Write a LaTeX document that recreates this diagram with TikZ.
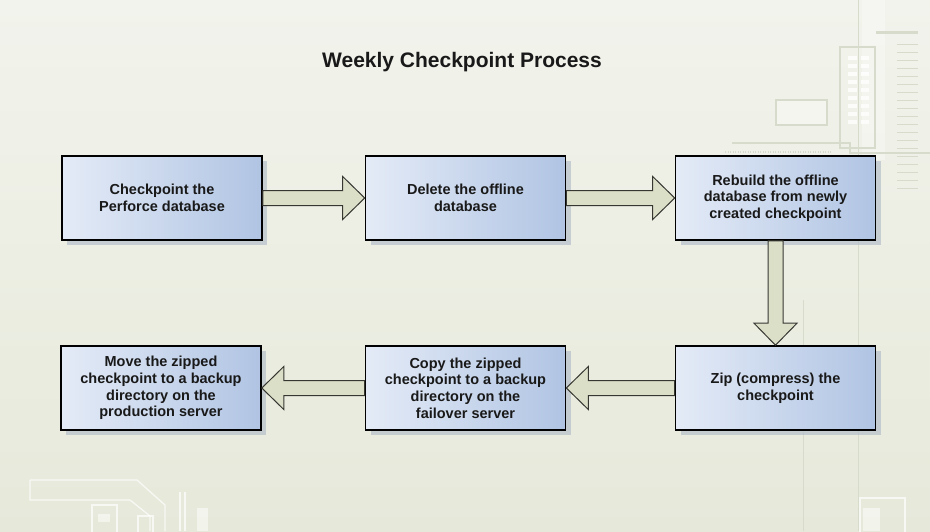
\documentclass[tikz,border=0pt]{standalone}
\usepackage{fontspec}
\setmainfont{Liberation Sans}
\usepackage{xcolor}
\usetikzlibrary{calc, math, shadows}
\definecolor{bgtop}{RGB}{242,243,236}
\definecolor{bgbot}{RGB}{230,233,218}
\definecolor{boxlight}{RGB}{228,235,247}
\definecolor{boxdark}{RGB}{176,196,227}
\definecolor{shadowc}{RGB}{172,184,198}
\definecolor{arrfill}{RGB}{220,223,200}
\definecolor{arrdraw}{RGB}{55,55,50}
\definecolor{trace}{RGB}{215,219,204}

\tikzset{
  stepbox/.style={draw=black, line width=1.6pt, left color=boxlight, right color=boxdark,
    minimum width=200, minimum height=84, align=center, text=black!90,
    font=\bfseries\fontsize{14.5}{16.7}\selectfont,
    drop shadow={shadow xshift=5pt, shadow yshift=-5pt, fill=shadowc, opacity=0.6}},
  fatarrow/.style={draw=arrdraw, fill=arrfill, line width=1pt, line join=miter},
  deco/.style={draw=white, line width=1.3pt, opacity=0.7}
}

\newcommand{\blockarrow}[2]{%
  \draw[fatarrow] let \p1=(#1), \p2=(#2),
    \n1={veclen(\x2-\x1,\y2-\y1)}, \n2={atan2(\y2-\y1,\x2-\x1)} in
    [shift={(\p1)}, rotate=\n2]
    (0,-\shaft) -- ({\n1-\headl},-\shaft) -- ({\n1-\headl},-\headw) -- (\n1,0)
    -- ({\n1-\headl},\headw) -- ({\n1-\headl},\shaft) -- (0,\shaft) -- cycle;
}

\begin{document}
\begin{tikzpicture}[x=1pt, y=-1pt]

\tikzmath{
\shaft = 7.5; %half shaft width
\headw = 21.5;
\headl = 22; %head length
}

\useasboundingbox (0,0) rectangle (930,531);
\shade[top color=bgtop, bottom color=bgbot] (0,0) rectangle (930,531);

% circuit board traces
\draw[trace, line width=1pt] (858,0) -- (858,531);
\draw[trace, line width=1pt] (803,300) -- (803,531);
\fill[white, opacity=0.3] (862,0) rectangle (885,160);
\draw[trace, line width=3pt] (876,32) -- (918,32);
\foreach \k in {0, ..., 18}{
  \draw[trace, line width=1pt] (897,{44+\k*8}) -- (918,{44+\k*8});
}
\draw[trace, line width=1.5pt, fill=white, fill opacity=0.3] (776,100) rectangle (827,125);
\draw[trace, line width=1.5pt] (840,47) rectangle (875,148);
\foreach \k in {0, ..., 8}{
  \fill[white, opacity=0.8] (848,{56+\k*8}) rectangle (857,{60+\k*8});
  \fill[white, opacity=0.8] (861,{56+\k*8}) rectangle (869,{60+\k*8});
}
\draw[trace, line width=1.5pt] (732,143) -- (850,143) -- (850,153) -- (930,153);
\draw[trace, line width=2pt, dash pattern=on 1pt off 1.5pt] (725,152) -- (832,152);

\draw[deco] (30,480) -- (137,480) -- (165,505) -- (165,531);
\draw[deco] (30,480) -- (30,500) -- (130,500) -- (150,516) -- (150,531);
\draw[deco] (92,505) rectangle (117,540);
\fill[white, opacity=0.5] (98,514) rectangle (110,522);
\draw[deco] (138,516) rectangle (153,540);
\draw[deco] (180,492) -- (180,531);
\draw[deco] (185,492) -- (185,531);
\fill[white, opacity=0.5] (197,508) rectangle (208,531);
\draw[deco] (860,498) rectangle (905,540);
\fill[white, opacity=0.5] (863,508) rectangle (880,531);

\node[font=\bfseries\fontsize{21}{25}\selectfont, text=black!90] (title) at (462,62)
  {Weekly Checkpoint Process};

\foreach \name/\x/\y/\txt in {
  chk/162/198/{Checkpoint the\\Perforce database},
  del/465.5/198/{Delete the offline\\database},
  rebuild/775.5/198/{Rebuild the offline\\database from newly\\created checkpoint},
  zip/775.5/388/{Zip (compress) the\\checkpoint},
  copy/465.5/388/{Copy the zipped\\checkpoint to a backup\\directory on the\\failover server},
  move/161/388/{Move the zipped\\checkpoint to a backup\\directory on the\\production server}%
}{
  \node[stepbox] (\name) at (\x,\y) {\txt};
}

\foreach \a/\b in {chk.east/del.west, del.east/rebuild.west, rebuild.south/zip.north,
  zip.west/copy.east, copy.west/move.east}{
  \blockarrow{\a}{\b}
}

\end{tikzpicture}
\end{document}
